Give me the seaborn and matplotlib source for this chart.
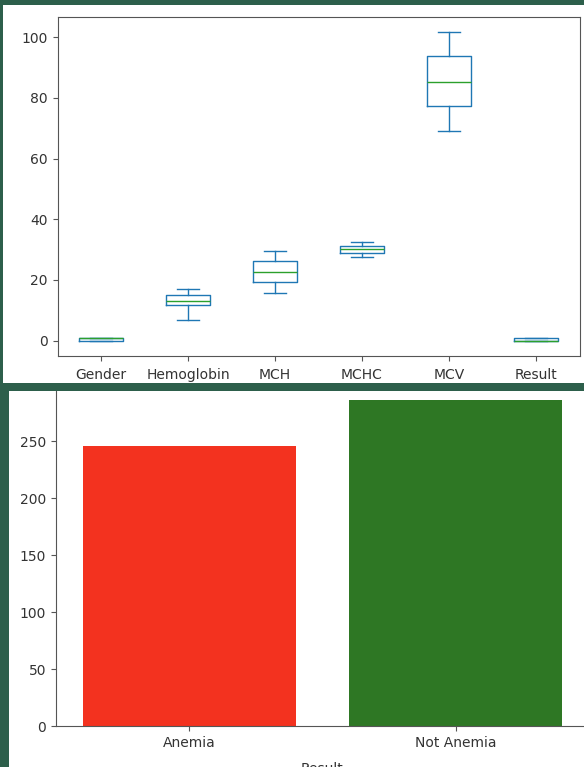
import matplotlib
matplotlib.use('Agg')
import matplotlib.pyplot as plt
import seaborn as sns
from matplotlib.patches import Rectangle

# box plot summary of the anemia dataset columns
columns = ['Gender', 'Hemoglobin', 'MCH', 'MCHC', 'MCV', 'Result']
whis_low = [0, 6.7, 15.8, 27.6, 69.1, 0]
q1 = [0, 11.7, 19.3, 29.0, 77.2, 0]
median = [1, 13.2, 22.6, 30.2, 85.3, 0]
q3 = [1, 14.9, 26.2, 31.3, 93.7, 1]
whis_high = [1, 17.0, 29.6, 32.5, 101.6, 1]

# count of each Result class
result_labels = ['Anemia', 'Not Anemia']
result_counts = [246, 286]
bar_colors = ['#f3321f', '#2e7724']

W, H = 584, 767
bg_green = '#2d5f4b'
spine_col = '#555555'

fig = plt.figure(figsize=(W / 100, H / 100), dpi=100, facecolor=bg_green)


def px(x0, y0, x1, y1):
    # pixel box (top-left origin) -> figure fraction [left, bottom, width, height]
    return [x0 / W, 1 - y1 / H, (x1 - x0) / W, (y1 - y0) / H]


# white panels of the two screenshots, plus the green gap between them
for (x0, y0, x1, y1), col, z in [((9, 391, W, H), 'white', -3),
                                 ((3, 5, W, 383), 'white', 0.5),
                                 ((0, 383, W, 391), bg_green, 0.5)]:
    l, b, w, h = px(x0, y0, x1, y1)
    fig.add_artist(Rectangle((l, b), w, h, transform=fig.transFigure,
                             facecolor=col, edgecolor='none', zorder=z))

# ---- top: pandas-style box plot ----
ax1 = fig.add_axes(px(57.5, 17, 579.5, 356), zorder=1)
stats = [dict(label=c, whislo=lo, q1=a, med=m, q3=b, whishi=hi)
         for c, lo, a, m, b, hi in zip(columns, whis_low, q1, median, q3, whis_high)]
blue = '#1f77b4'
ax1.bxp(stats, showfliers=False, widths=0.5,
        boxprops=dict(color=blue), whiskerprops=dict(color=blue),
        capprops=dict(color=blue), medianprops=dict(color='#2ca02c'))
ax1.set_xlim(0.5, 6.5)
ax1.set_yticks([0, 20, 40, 60, 80, 100])
ax1.tick_params(axis='x', pad=5)

# ---- bottom: count per Result ----
ax2 = fig.add_axes(px(56, 383.7, 589, 726), zorder=-1)
sns.barplot(x=result_labels, y=result_counts, hue=result_labels,
            palette=bar_colors, saturation=1, legend=False, width=0.8, ax=ax2)
ax2.set_xlabel('Result', labelpad=9)
ax2.set_ylabel('')

for ax in (ax1, ax2):
    for s in ax.spines.values():
        s.set_color(spine_col)
    ax.tick_params(colors=spine_col, labelcolor='#333333', labelsize=10)
ax2.xaxis.label.set_color('#333333')

fig.savefig('out.png', dpi=100, facecolor=bg_green)
